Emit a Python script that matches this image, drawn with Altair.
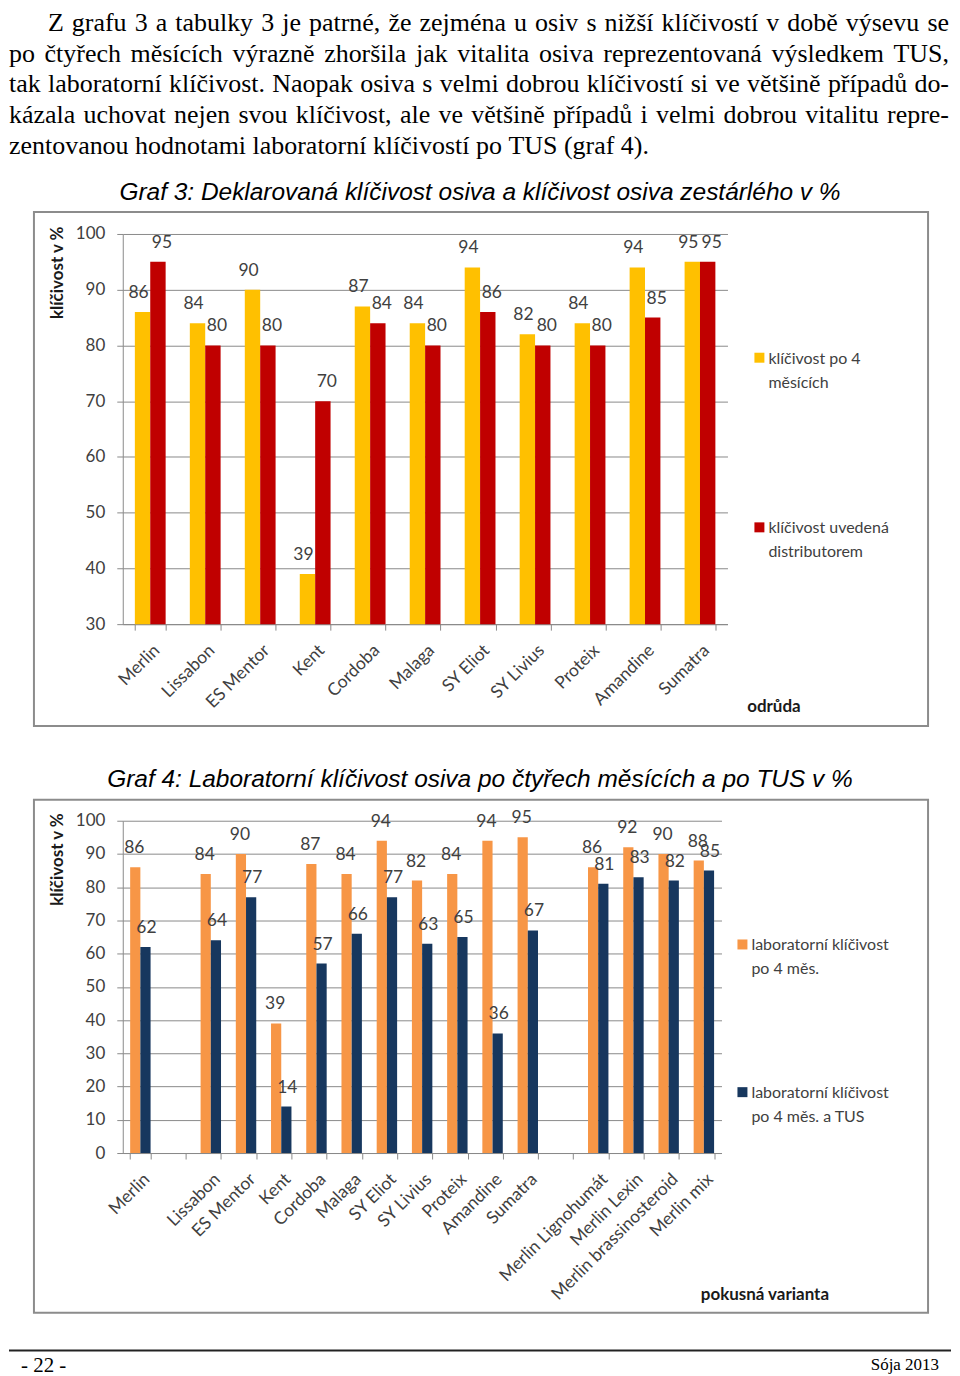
import altair as alt
import pandas as pd

# ---------------- data ----------------
para_lines = [
    "Z grafu 3 a tabulky 3 je patrné, že zejména u osiv s nižší klíčivostí v době výsevu se",
    "po čtyřech měsících výrazně zhoršila jak vitalita osiva reprezentovaná výsledkem TUS,",
    "tak laboratorní klíčivost. Naopak osiva s velmi dobrou klíčivostí si ve většině případů do-",
    "kázala uchovat nejen svou klíčivost, ale ve většině případů i velmi dobrou vitalitu repre-",
    "zentovanou hodnotami laboratorní klíčivostí po TUS (graf 4).",
]
para_justified = [True, True, True, True, False]

title3 = "Graf 3: Deklarovaná klíčivost osiva a klíčivost osiva zestárlého v %"
cats3 = ["Merlin", "Lissabon", "ES Mentor", "Kent", "Cordoba", "Malaga",
         "SY Eliot", "SY Livius", "Proteix", "Amandine", "Sumatra"]
po4m3 = [86, 84, 90, 39, 87, 84, 94, 82, 84, 94, 95]
distr3 = [95, 80, 80, 70, 84, 80, 86, 80, 80, 85, 95]
series3 = ["klíčivost po 4 měsících", "klíčivost uvedená distributorem"]
colors3 = ["#FFC000", "#C00000"]
legend3 = [["klíčivost po 4", "měsících"], ["klíčivost uvedená", "distributorem"]]
yticks3 = [30, 40, 50, 60, 70, 80, 90, 100]
ytitle = "klíčivost v %"
xtitle3 = "odrůda"

title4 = "Graf 4: Laboratorní klíčivost osiva po čtyřech měsících a po TUS v %"
cats4 = ["Merlin", " ", "Lissabon", "ES Mentor", "Kent", "Cordoba", "Malaga",
         "SY Eliot", "SY Livius", "Proteix", "Amandine", "Sumatra", "  ",
         "Merlin Lignohumát", "Merlin Lexin", "Merlin brassinosteroid", "Merlin mix"]
lab4 = [86, None, 84, 90, 39, 87, 84, 94, 82, 84, 94, 95, None, 86, 92, 90, 88]
tus4 = [62, None, 64, 77, 14, 57, 66, 77, 63, 65, 36, 67, None, 81, 83, 82, 85]
series4 = ["laboratorní klíčivost po 4 měs.", "laboratorní klíčivost po 4 měs. a TUS"]
colors4 = ["#F79646", "#17375E"]
legend4 = [["laboratorní klíčivost", "po 4 měs."], ["laboratorní klíčivost", "po 4 měs. a TUS"]]
yticks4 = [0, 10, 20, 30, 40, 50, 60, 70, 80, 90, 100]
xtitle4 = "pokusná varianta"

footer_left = "- 22 -"
footer_right = "Sója 2013"

# ---------------- layout constants (page pixels) ----------------
X0 = 122          # left edge of both plot areas
Y3, W3, H3 = 233, 606, 391
Y4, W4, H4 = 821, 600, 333
PARA_SIZE = 26
PARA_LEFT = [47, 8, 8, 8, 8]
PARA_RIGHT = 950
PARA_BASE = [30, 61, 91, 122, 153]

def rx(px):
    return px - X0

GRID = "#8a8a8a"
TXT = "#404040"
LFONT = "Lato"

# Times / Liberation Serif advance widths (per 1000 em) for text layout
_TW = {" ": 250, ",": 250, ".": 250, "-": 333, "(": 333, ")": 333, ":": 278,
       "T": 611, "U": 722, "S": 556, "Z": 611, "N": 722,
       "a": 444, "b": 500, "c": 444, "d": 500, "e": 444, "f": 333, "g": 500, "h": 500,
       "i": 278, "j": 278, "k": 500, "l": 278, "m": 778, "n": 500, "o": 500, "p": 500,
       "q": 500, "r": 333, "s": 389, "t": 278, "u": 500, "v": 500, "w": 722, "x": 500,
       "y": 500, "z": 444,
       "á": 444, "é": 444, "í": 278, "ý": 500, "ú": 500, "ů": 500, "č": 444, "ě": 444,
       "ř": 333, "š": 389, "ž": 444, "ó": 500}


def tw(word):
    return sum(_TW.get(ch, 500) for ch in word) * PARA_SIZE / 1000.0


def para_words():
    rows = []
    for line, just, left, base in zip(para_lines, para_justified, PARA_LEFT, PARA_BASE):
        words = line.split(" ")
        widths = [tw(w) for w in words]
        if just and len(words) > 1:
            gap = (PARA_RIGHT - left - sum(widths)) / (len(words) - 1)
        else:
            gap = tw(" ")
        x = left
        for w, wd in zip(words, widths):
            rows.append({"word": w, "px": rx(x), "py": base - Y3})
            x += wd + gap
    return pd.DataFrame(rows)


def long_df(cats, a, b, series):
    rows = []
    for c, va, vb in zip(cats, a, b):
        if va is not None:
            rows.append({"cat": c, "series": series[0], "value": va})
        if vb is not None:
            rows.append({"cat": c, "series": series[1], "value": vb})
    return pd.DataFrame(rows)


one = pd.DataFrame({"k": [0]})


def const_rect(x, x2, y, y2, **kw):
    return alt.Chart(one).mark_rect(**kw).encode(
        x=alt.value(x), x2=alt.value(x2), y=alt.value(y), y2=alt.value(y2))


def const_text(lines, x, y, **kw):
    return alt.Chart(one).mark_text(text=lines, **kw).encode(
        x=alt.value(x), y=alt.value(y))


def bar_chart(df, cats, series, colors, yticks, ydom, base, xtitle,
              xtitle_pos, legend_lines, legend_x, legend_ys, lh, bar_pad, label_dx):
    color = alt.Color("series:N", scale=alt.Scale(domain=series, range=colors), legend=None)
    xenc = alt.X("cat:N", sort=cats,
                 scale=alt.Scale(domain=cats, paddingInner=bar_pad, paddingOuter=bar_pad / 2),
                 axis=alt.Axis(title=xtitle, labelAngle=-45, tickBand="extent", grid=False,
                               tickSize=6, tickColor=GRID, domainColor=GRID,
                               labelFont=LFONT, labelFontSize=17.5, labelColor=TXT,
                               labelPadding=11, labelLimit=300,
                               titleFont=LFONT, titleFontSize=17, titleFontWeight="bold",
                               titleColor="#1a1a1a", titleX=xtitle_pos[0],
                               titleY=xtitle_pos[1], titleBaseline="middle"))
    xoff = alt.XOffset("series:N", scale=alt.Scale(domain=series, paddingInner=0, paddingOuter=0))
    yenc = alt.Y("value:Q", scale=alt.Scale(domain=ydom, nice=False, zero=False),
                 axis=alt.Axis(values=yticks, title=ytitle, grid=True, gridColor=GRID,
                               domainColor=GRID, tickColor=GRID, tickSize=6,
                               labelOverlap=False,
                               labelFont=LFONT, labelFontSize=17, labelColor=TXT,
                               labelPadding=12, titleFont=LFONT, titleFontSize=17,
                               titleFontWeight="bold", titleColor="#1a1a1a",
                               titleAnchor="end", titleY=-8, titlePadding=9))
    bars = alt.Chart(df).mark_bar().encode(
        x=xenc, xOffset=xoff, y=yenc, y2=alt.datum(base), color=color)
    layers = [bars]
    for s, dx in zip(series, label_dx):
        layers.append(alt.Chart(df).transform_filter(alt.datum.series == s).mark_text(
            baseline="middle", dy=-19, dx=dx, font=LFONT, fontSize=17.5, color=TXT).encode(
            x=xenc, xOffset=xoff, y=yenc, text="value:Q"))
    for s, lines, ly in zip(series, legend_lines, legend_ys):
        ldf = pd.DataFrame({"series": [s]})
        layers.append(alt.Chart(ldf).mark_square(size=100, opacity=1).encode(
            x=alt.value(legend_x), y=alt.value(ly), color=color))
        layers.append(alt.Chart(ldf).mark_text(
            text=lines, align="left", baseline="alphabetic", lineHeight=lh,
            font=LFONT, fontSize=16, color=TXT).encode(
            x=alt.value(legend_x + 9), y=alt.value(ly + 6)))
    return layers


df3 = long_df(cats3, po4m3, distr3, series3)
df4 = long_df(cats4, lab4, tus4, series4)

# ---- section 1: paragraph + chart 3 ----
sec1 = [
    const_rect(rx(8), rx(952), 8 - Y3, 1368 - Y3, color="white", opacity=0),
    const_rect(rx(33), rx(929), 211 - Y3, 726 - Y3, filled=False, stroke="#8c8c8c", strokeWidth=2),
    alt.Chart(para_words()).mark_text(align="left", baseline="alphabetic",
                                      font="Liberation Serif", fontSize=PARA_SIZE,
                                      color="black").encode(
        x=alt.X("px:Q", scale=None), y=alt.Y("py:Q", scale=None), text="word:N"),
    const_text(title3, rx(480), 199 - Y3, align="center", baseline="alphabetic",
               font="Liberation Sans", fontSize=24.5, fontStyle="italic", color="black"),
]
sec1 += bar_chart(df3, cats3, series3, colors3, yticks3, [30, 100], 30, xtitle3,
                  (rx(774), 707 - (Y3 + H3)), legend3, rx(760), [357 - Y3, 527 - Y3], 24, 0.44,
                  [-4, 4])
chart3 = alt.layer(*sec1).properties(width=W3, height=H3)

# ---- section 2: chart 4 + footer ----
sec2 = [
    const_rect(rx(33), rx(929), 800 - Y4, 1314 - Y4, filled=False, stroke="#8c8c8c", strokeWidth=2),
    const_text(title4, rx(480), 787 - Y4, align="center", baseline="alphabetic",
               font="Liberation Sans", fontSize=24.5, fontStyle="italic", color="black"),
]
sec2 += bar_chart(df4, cats4, series4, colors4, yticks4, [0, 100], 0, xtitle4,
                  (rx(765), 1296 - (Y4 + H4)), legend4, rx(743), [945 - Y4, 1093 - Y4], 24, 0.42,
                  [-1, 1])
sec2 += [
    alt.Chart(one).mark_rule(color="#222222", strokeWidth=2).encode(
        x=alt.value(rx(8)), x2=alt.value(rx(952)), y=alt.value(1352 - Y4)),
    const_text(footer_left, rx(20), 1373 - Y4, align="left", baseline="alphabetic",
               font="Liberation Serif", fontSize=21, color="black"),
    const_text(footer_right, rx(940), 1371 - Y4, align="right", baseline="alphabetic",
               font="Liberation Serif", fontSize=17, color="black"),
]
chart4 = alt.layer(*sec2).properties(width=W4, height=H4)

chart = alt.vconcat(chart3, chart4, spacing=(Y4 - Y3 - H3), bounds="flush").resolve_scale(
    color="independent", x="independent", y="independent", xOffset="independent"
).properties(padding=0).configure_view(stroke=None)

chart.save("out.html", embed_options={"renderer": "svg", "actions": False})
